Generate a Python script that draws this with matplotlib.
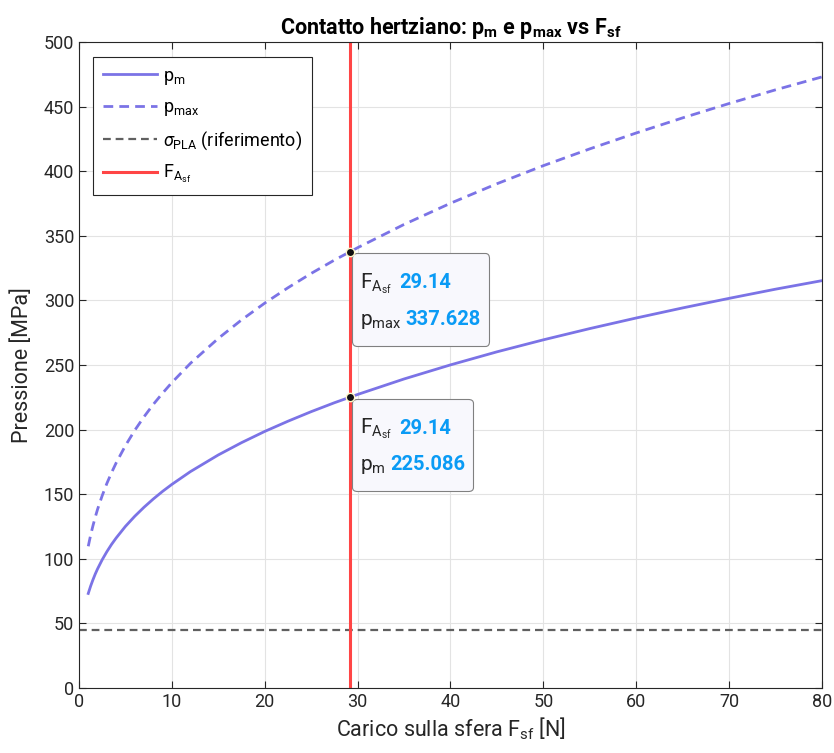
import matplotlib
matplotlib.use("Agg")
import matplotlib.pyplot as plt
from matplotlib.offsetbox import TextArea, HPacker, VPacker, AnnotationBbox, DrawingArea

plt.rcParams['font.family'] = ['Roboto', 'DejaVu Sans']
plt.rcParams['mathtext.fontset'] = 'custom'
plt.rcParams['mathtext.rm'] = 'Roboto'
plt.rcParams['mathtext.it'] = 'Roboto:italic'
plt.rcParams['mathtext.bf'] = 'Roboto:bold'
plt.rcParams['mathtext.default'] = 'regular'

# values
F_sf = [1, 1.25, 1.5, 1.75, 2, 2.5, 3, 3.5, 4, 5, 6, 7, 8, 9, 10, 12, 15, 17.5, 20, 22.5, 25,
        27.5, 30, 35, 40, 45, 50, 55, 60, 65, 70, 75, 80]
p_m = [73.2, 78.8, 83.7, 88.2, 92.2, 99.3, 105.5, 111.1, 116.1, 125.1, 132.9, 139.9, 146.3,
       152.2, 157.6, 167.5, 180.4, 189.9, 198.6, 206.5, 213.9, 220.8, 227.2, 239.2, 250.1,
       260.2, 269.5, 278.2, 286.4, 294.2, 301.6, 308.7, 315.3]
p_max = [109.7, 118.2, 125.5, 132.2, 138.3, 148.9, 158.3, 166.6, 174.2, 187.6, 199.4, 209.9,
         219.5, 228.2, 236.4, 251.3, 270.6, 284.9, 297.9, 309.8, 320.9, 331.2, 340.8, 358.8,
         375.2, 390.3, 404.3, 417.3, 429.6, 441.3, 452.4, 463.0, 473.0]
sigma_PLA = 45
F_A_sf = 29.14
tip_pm = 225.086
tip_pmax = 337.628

c_curve = '#7B73E6'
c_red = '#FF4545'
c_gray = '#606060'
c_val = '#0A9BF5'

fig = plt.figure(figsize=(8.34, 7.53), dpi=100)
ax = fig.add_axes([0.0947, 0.0863, 0.8909, 0.8579])

ax.plot(F_sf, p_m, color=c_curve, lw=2, label=r'$p_m$', solid_joinstyle='round')
ax.plot(F_sf, p_max, color=c_curve, lw=2, ls=(0, (3.5, 2.2)), label=r'$p_{max}$')
ax.axhline(sigma_PLA, color=c_gray, lw=1.6, ls=(0, (3.5, 2.2)),
           label=r'$\mathit{\sigma}_{PLA}$ (riferimento)')
ax.axvline(F_A_sf, color=c_red, lw=2.2, label=r'$F_{A_{sf}}$')

ax.set_xlim(0, 80)
ax.set_ylim(0, 500)
ax.set_xticks(range(0, 81, 10))
ax.set_yticks(range(0, 501, 50))
ax.grid(True, color='#E3E3E3', lw=0.8)
ax.set_axisbelow(True)
ax.tick_params(direction='in', top=True, right=True, labelsize=13, colors='#262626', length=5)
for s in ax.spines.values():
    s.set_color('#262626')
    s.set_linewidth(0.8)

ax.set_title(r'Contatto hertziano: $\mathbf{p_m}$ e $\mathbf{p_{max}}$ vs $\mathbf{F_{sf}}$',
             fontsize=15.5, fontweight='bold', pad=6)
ax.set_xlabel(r'Carico sulla sfera $F_{sf}$ [N]', fontsize=15.5, color='#262626', labelpad=3)
ax.set_ylabel('Pressione [MPa]', fontsize=15.5, color='#262626', labelpad=8)

leg = ax.legend(loc='upper left', bbox_to_anchor=(0.019, 0.977), borderaxespad=0, fontsize=13,
                handlelength=3.0, handletextpad=0.3, labelspacing=0.62,
                borderpad=0.55, fancybox=False, framealpha=1, edgecolor='#262626')
leg.get_frame().set_linewidth(0.8)


def datatip(y, name, val):
    r1 = HPacker(children=[TextArea(r'$F_{A_{sf}}$', textprops=dict(fontsize=15, color='#262626')),
                           TextArea('%g' % F_A_sf, textprops=dict(fontsize=14.5, color=c_val, fontweight='bold'))],
                 sep=5, align='baseline')
    r2 = HPacker(children=[TextArea(name, textprops=dict(fontsize=15, color='#262626')),
                           TextArea(val, textprops=dict(fontsize=14.5, color=c_val, fontweight='bold'))],
                 sep=3, align='baseline')
    inner = VPacker(children=[r1, r2], sep=10, align='left')
    box = VPacker(children=[DrawingArea(1, 3), inner, DrawingArea(1, 1)], sep=4, align='left')
    ab = AnnotationBbox(box, (F_A_sf, y), xybox=(7.5, -7), xycoords='data',
                        boxcoords='offset points', box_alignment=(0, 1), pad=0.6,
                        bboxprops=dict(boxstyle='round,pad=0.6,rounding_size=0.35',
                                       fc='#F8F8FD', ec='#808080', lw=0.8))
    ax.add_artist(ab)
    ax.plot([F_A_sf], [y], 'o', ms=6, mfc='#111111', mec='#FFF7C8', mew=1, zorder=6)


datatip(tip_pmax, r'$p_{max}$', '%g' % tip_pmax)
datatip(tip_pm, r'$p_m$', '%g' % tip_pm)

fig.savefig('out.png', dpi=100)
